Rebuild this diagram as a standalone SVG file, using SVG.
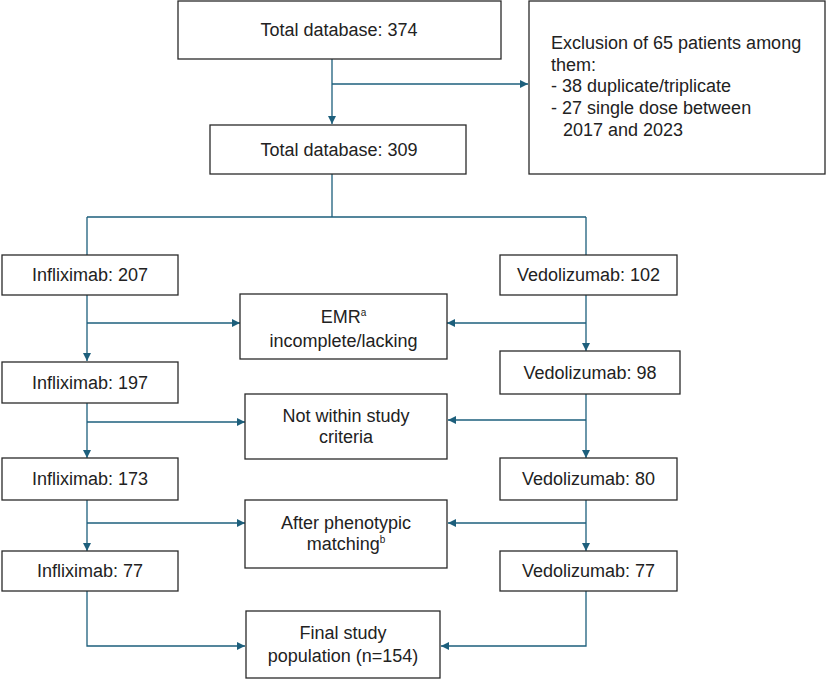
<svg xmlns="http://www.w3.org/2000/svg" width="826" height="679" viewBox="0 0 826 679">
<style>
.box{fill:#fff;stroke:#2a2a2a;stroke-width:1.3}
.t{font-family:"Liberation Sans",Arial,sans-serif;font-size:18px;fill:#222;text-anchor:middle}
.tl{font-family:"Liberation Sans",Arial,sans-serif;font-size:18px;fill:#222}
.sup{font-size:10px}
.c{fill:none;stroke:#1d5f7c;stroke-width:1.3}
</style>
<defs>
<marker id="ah" viewBox="0 0 10 10" refX="10" refY="5" markerWidth="8" markerHeight="8" markerUnits="userSpaceOnUse" orient="auto">
<path d="M0,0 L10,5 L0,10 Z" fill="#1d5f7c"/>
</marker>
</defs>
<rect width="826" height="679" fill="#fff"/>
<g id="connectors">
<path class="c" d="M332,59 V124" marker-end="url(#ah)"/>
<path class="c" d="M332,84 H528" marker-end="url(#ah)"/>
<path class="c" d="M332,174 V217 M87,217 H586 M87,217 V255 M586,217 V255"/>
<path class="c" d="M87,295 V361" marker-end="url(#ah)"/>
<path class="c" d="M87,323 H240" marker-end="url(#ah)"/>
<path class="c" d="M586,295 V351" marker-end="url(#ah)"/>
<path class="c" d="M586,323 H447" marker-end="url(#ah)"/>
<path class="c" d="M87,403 V458" marker-end="url(#ah)"/>
<path class="c" d="M87,422 H245" marker-end="url(#ah)"/>
<path class="c" d="M586,394 V458" marker-end="url(#ah)"/>
<path class="c" d="M586,420 H448" marker-end="url(#ah)"/>
<path class="c" d="M87,500 V551" marker-end="url(#ah)"/>
<path class="c" d="M87,523 H245" marker-end="url(#ah)"/>
<path class="c" d="M586,500 V551" marker-end="url(#ah)"/>
<path class="c" d="M586,523 H448" marker-end="url(#ah)"/>
<path class="c" d="M87,591 V646 H245" marker-end="url(#ah)"/>
<path class="c" d="M586,591 V646 H441" marker-end="url(#ah)"/>
</g>
<g id="total374">
<rect class="box" x="178" y="1" width="323" height="58"/>
<text class="t" x="339" y="36">Total database: 374</text>
</g>
<g id="exclusion">
<rect class="box" x="529" y="1" width="296" height="173"/>
<text class="tl" x="551" y="49">Exclusion of 65 patients among</text>
<text class="tl" x="551" y="71">them:</text>
<text class="tl" x="551" y="92">- 38 duplicate/triplicate</text>
<text class="tl" x="551" y="114">- 27 single dose between</text>
<text class="tl" x="563" y="136">2017 and 2023</text>
</g>
<g id="total309">
<rect class="box" x="210" y="125" width="256" height="49"/>
<text class="t" x="339" y="156">Total database: 309</text>
</g>
<g id="inf207">
<rect class="box" x="2" y="255" width="176" height="40"/>
<text class="t" x="90" y="281">Infliximab: 207</text>
</g>
<g id="ved102">
<rect class="box" x="500" y="255" width="177" height="40"/>
<text class="t" x="588.5" y="281">Vedolizumab: 102</text>
</g>
<g id="emr">
<rect class="box" x="240" y="294" width="207" height="65"/>
<text class="t" x="343.5" y="323">EMR<tspan class="sup" dy="-7">a</tspan></text>
<text class="t" x="343.5" y="347">incomplete/lacking</text>
</g>
<g id="inf197">
<rect class="box" x="2" y="362" width="176" height="41"/>
<text class="t" x="90" y="389">Infliximab: 197</text>
</g>
<g id="ved98">
<rect class="box" x="500" y="351" width="180" height="43"/>
<text class="t" x="590" y="379">Vedolizumab: 98</text>
</g>
<g id="notwithin">
<rect class="box" x="245" y="394" width="202" height="65"/>
<text class="t" x="346" y="422">Not within study</text>
<text class="t" x="346" y="443">criteria</text>
</g>
<g id="inf173">
<rect class="box" x="2" y="458" width="176" height="42"/>
<text class="t" x="90" y="485">Infliximab: 173</text>
</g>
<g id="ved80">
<rect class="box" x="500" y="458" width="177" height="42"/>
<text class="t" x="588.5" y="485">Vedolizumab: 80</text>
</g>
<g id="phenotypic">
<rect class="box" x="245" y="500" width="202" height="68"/>
<text class="t" x="346" y="529">After phenotypic</text>
<text class="t" x="346" y="550">matching<tspan class="sup" dy="-7">b</tspan></text>
</g>
<g id="inf77">
<rect class="box" x="2" y="551" width="176" height="40"/>
<text class="t" x="90" y="577">Infliximab: 77</text>
</g>
<g id="ved77">
<rect class="box" x="500" y="551" width="177" height="40"/>
<text class="t" x="588.5" y="577">Vedolizumab: 77</text>
</g>
<g id="final">
<rect class="box" x="246" y="611" width="194" height="67"/>
<text class="t" x="343" y="639">Final study</text>
<text class="t" x="343" y="662">population (n=154)</text>
</g>
</svg>
